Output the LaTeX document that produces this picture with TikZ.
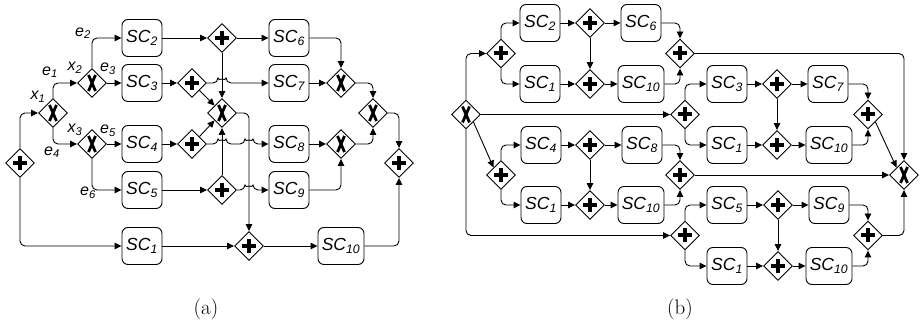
\documentclass[tikz,border=0pt]{standalone}
\usepackage{fontspec}
\newfontfamily\diagfont{Liberation Sans}
\usetikzlibrary{shapes.geometric,arrows.meta,calc}

\newcommand\svc[1]{\textit{SC\textsubscript{#1}}}
\newcommand\lvar[2]{\textit{#1\textsubscript{#2}}}

\begin{document}
\begin{tikzpicture}[x=1pt,y=-1pt,
  line width=0.9pt,
  every node/.style={font=\diagfont\fontsize{17.5}{20}\selectfont},
  task/.style={draw, rounded corners=6pt, minimum width=40pt, minimum height=37pt, inner sep=0pt},
  widetask/.style={task, minimum width=46pt},
  gate/.style={draw, diamond, aspect=1, minimum size=29pt, inner sep=0pt, fill=white},
  andgate/.style={gate, path picture={
      \fill[black] ($(path picture bounding box.center)+(-7,-2)$) rectangle ($(path picture bounding box.center)+(7,2)$);
      \fill[black] ($(path picture bounding box.center)+(-2,-7)$) rectangle ($(path picture bounding box.center)+(2,7)$);}},
  xorgate/.style={gate, path picture={
      \draw[black, line width=2.8pt] ($(path picture bounding box.center)+(-3.5,-8)$) -- ($(path picture bounding box.center)+(3.5,8)$);
      \draw[black, line width=2.8pt] ($(path picture bounding box.center)+(3.5,-8)$) -- ($(path picture bounding box.center)+(-3.5,8)$);}},
  lbl/.style={font=\diagfont\fontsize{16}{18}\selectfont, inner sep=0pt},
  caption/.style={font=\rmfamily\fontsize{21}{24}\selectfont},
  flow/.style={-{Triangle[length=7pt,width=6.5pt]}, rounded corners=5pt},
]
\useasboundingbox (0,0) rectangle (923,328);

% ---------------- (a) ----------------
\node[andgate] (P0) at (20,163) {};
\node[xorgate] (X1) at (53,113) {};
\node[xorgate] (X2) at (92,83) {};
\node[xorgate] (X3) at (92,144) {};
\node[task] (a2) at (142,38) {\svc{2}};
\node[task] (a3) at (142,83) {\svc{3}};
\node[task] (a4) at (142,144) {\svc{4}};
\node[task] (a5) at (142,190) {\svc{5}};
\node[task] (a1) at (142,246) {\svc{1}};
\node[andgate] (G1) at (222,38) {};
\node[andgate] (G3) at (192,83) {};
\node[andgate] (G4) at (192,144) {};
\node[andgate] (G5) at (222,190) {};
\node[xorgate] (XC) at (222,113) {};
\node[andgate] (GB) at (249,246) {};
\node[task] (a6) at (289,38) {\svc{6}};
\node[task] (a7) at (289,83) {\svc{7}};
\node[task] (a8) at (289,144) {\svc{8}};
\node[task] (a9) at (289,190) {\svc{9}};
\node[widetask] (a10) at (341,246) {\svc{10}};
\node[xorgate] (X7) at (341,83) {};
\node[xorgate] (X8) at (341,144) {};
\node[xorgate] (XM) at (373,113) {};
\node[andgate] (GF) at (399,163) {};

% branch labels
\node[lbl] (lx1) at (38,97) {\lvar{x}{1}};
\node[lbl] (le1) at (50,72) {\lvar{e}{1}};
\node[lbl] (lx2) at (75,68) {\lvar{x}{2}};
\node[lbl] (le2) at (83,33) {\lvar{e}{2}};
\node[lbl] (le3) at (108,69) {\lvar{e}{3}};
\node[lbl] (lx3) at (75,130) {\lvar{x}{3}};
\node[lbl] (le5) at (108,131) {\lvar{e}{5}};
\node[lbl] (le4) at (52,152) {\lvar{e}{4}};
\node[lbl] (le6) at (88,193) {\lvar{e}{6}};

\draw[flow] (P0.north) |- (X1.west);
\draw[flow] (P0.south) |- (a1.west);
\draw[flow] (X1.north) |- (X2.west);
\draw[flow] (X1.south) |- (X3.west);
\draw[flow] (X2.north) |- (a2.west);
\draw[flow] (X2.east) -- (a3.west);
\draw[flow] (X3.east) -- (a4.west);
\draw[flow] (X3.south) |- (a5.west);
\draw[flow] (a2) -- (G1);
\draw[flow] (G1) -- (a6);
\draw[flow] (G1.south) -- (XC.north);
\draw[flow] (a3) -- (G3);
\draw[flow] (G3.east) -- ($(G1|-G3)+(-4,0)$) arc[start angle=180,end angle=360,radius=4] -- (a7.west);
\draw[flow] (G3.south east) -- (XC.north west);
\draw[flow] (a4) -- (G4);
\draw[flow] (G4.east) -- ($(G5|-G4)+(-4,0)$) arc[start angle=180,end angle=360,radius=4]
   -- ($(GB|-G4)+(-4,0)$) arc[start angle=180,end angle=360,radius=4] -- (a8.west);
\draw[flow] (G4.north east) -- (XC.south west);
\draw[flow] (a5) -- (G5);
\draw[flow] (G5.east) -- ($(GB|-G5)+(-4,0)$) arc[start angle=180,end angle=360,radius=4] -- (a9.west);
\draw[flow] (G5.north) -- (XC.south);
\draw[flow] (XC.east) -| (GB.north);
\draw[flow] (a1) -- (GB);
\draw[flow] (GB) -- (a10);
\draw[flow] (a10.east) -| (GF.south);
\draw[flow] (a6.east) -| (X7.north);
\draw[flow] (a7) -- (X7);
\draw[flow] (X7.east) -| (XM.north);
\draw[flow] (a8) -- (X8);
\draw[flow] (a9.east) -| (X8.south);
\draw[flow] (X8.east) -| (XM.south);
\draw[flow] (XM.east) -| (GF.north);

\node[caption] (capa) at (206,309) {(a)};

% ---------------- (b) ----------------
\node[xorgate] (XS) at (466,114.5) {};
% first group
\node[andgate] (A1) at (501,53.5) {};
\node[task] (b2) at (540,23) {\svc{2}};
\node[task] (b1a) at (540,84) {\svc{1}};
\node[andgate] (A2) at (590,23) {};
\node[andgate] (A3) at (590,84) {};
\node[task] (b6) at (641,23) {\svc{6}};
\node[widetask] (b10a) at (641,84) {\svc{10}};
\node[andgate] (A4) at (680,53.5) {};
% second group
\node[andgate] (B1) at (501,175) {};
\node[task] (b4) at (541,145) {\svc{4}};
\node[task] (b1b) at (541,205) {\svc{1}};
\node[andgate] (B2) at (590,145) {};
\node[andgate] (B3) at (590,205) {};
\node[task] (b8) at (642,145) {\svc{8}};
\node[widetask] (b10b) at (641,205) {\svc{10}};
\node[andgate] (B4) at (680,175) {};
% third group
\node[andgate] (C1) at (685,114.5) {};
\node[task] (b3) at (727,84) {\svc{3}};
\node[task] (b1c) at (727,145) {\svc{1}};
\node[andgate] (C2) at (777,84) {};
\node[andgate] (C3) at (777,145) {};
\node[task] (b7) at (828,84) {\svc{7}};
\node[widetask] (b10c) at (829,145) {\svc{10}};
\node[andgate] (C4) at (868,114.5) {};
% fourth group
\node[andgate] (D1) at (685,235.5) {};
\node[task] (b5) at (727,205) {\svc{5}};
\node[task] (b1d) at (727,266) {\svc{1}};
\node[andgate] (D2) at (778,205) {};
\node[andgate] (D3) at (778,266) {};
\node[task] (b9) at (829,205) {\svc{9}};
\node[widetask] (b10d) at (829,266) {\svc{10}};
\node[andgate] (D4) at (868,235.5) {};
% final choice
\node[xorgate] (XF) at (904,175) {};

\draw[flow] (XS.north) |- (A1.west);
\draw[flow] (XS.east) -- (C1.west);
\draw[flow] (XS.south east) -- (B1.north west);
\draw[flow] (XS.south) |- (D1.west);

\draw[flow] (A1.north) |- (b2.west);
\draw[flow] (A1.south) |- (b1a.west);
\draw[flow] (b2) -- (A2);
\draw[flow] (A2) -- (b6);
\draw[flow] (A2.south) -- (A3.north);
\draw[flow] (b1a) -- (A3);
\draw[flow] (A3) -- (b10a);
\draw[flow] (b6.east) -| (A4.north);
\draw[flow] (b10a.east) -| (A4.south);
\draw[flow] (A4.east) -| (XF.north);

\draw[flow] (B1.north) |- (b4.west);
\draw[flow] (B1.south) |- (b1b.west);
\draw[flow] (b4) -- (B2);
\draw[flow] (B2) -- (b8);
\draw[flow] (B2.south) -- (B3.north);
\draw[flow] (b1b) -- (B3);
\draw[flow] (B3) -- (b10b);
\draw[flow] (b8.east) -| (B4.north);
\draw[flow] (b10b.east) -| (B4.south);
\draw[flow] (B4.east) -- (XF.west);

\draw[flow] (C1.north) |- (b3.west);
\draw[flow] (C1.south) |- (b1c.west);
\draw[flow] (b3) -- (C2);
\draw[flow] (C2) -- (b7);
\draw[flow] (C2.south) -- (C3.north);
\draw[flow] (b1c) -- (C3);
\draw[flow] (C3) -- (b10c);
\draw[flow] (b7.east) -| (C4.north);
\draw[flow] (b10c.east) -| (C4.south);
\draw[flow] (C4.south east) -- (XF.north west);

\draw[flow] (D1.north) |- (b5.west);
\draw[flow] (D1.south) |- (b1d.west);
\draw[flow] (b5) -- (D2);
\draw[flow] (D2) -- (b9);
\draw[flow] (D2.south) -- (D3.north);
\draw[flow] (b1d) -- (D3);
\draw[flow] (D3) -- (b10d);
\draw[flow] (b9.east) -| (D4.north);
\draw[flow] (b10d.east) -| (D4.south);
\draw[flow] (D4.east) -| (XF.south);

\node[caption] (capb) at (680,309) {(b)};
\end{tikzpicture}
\end{document}
